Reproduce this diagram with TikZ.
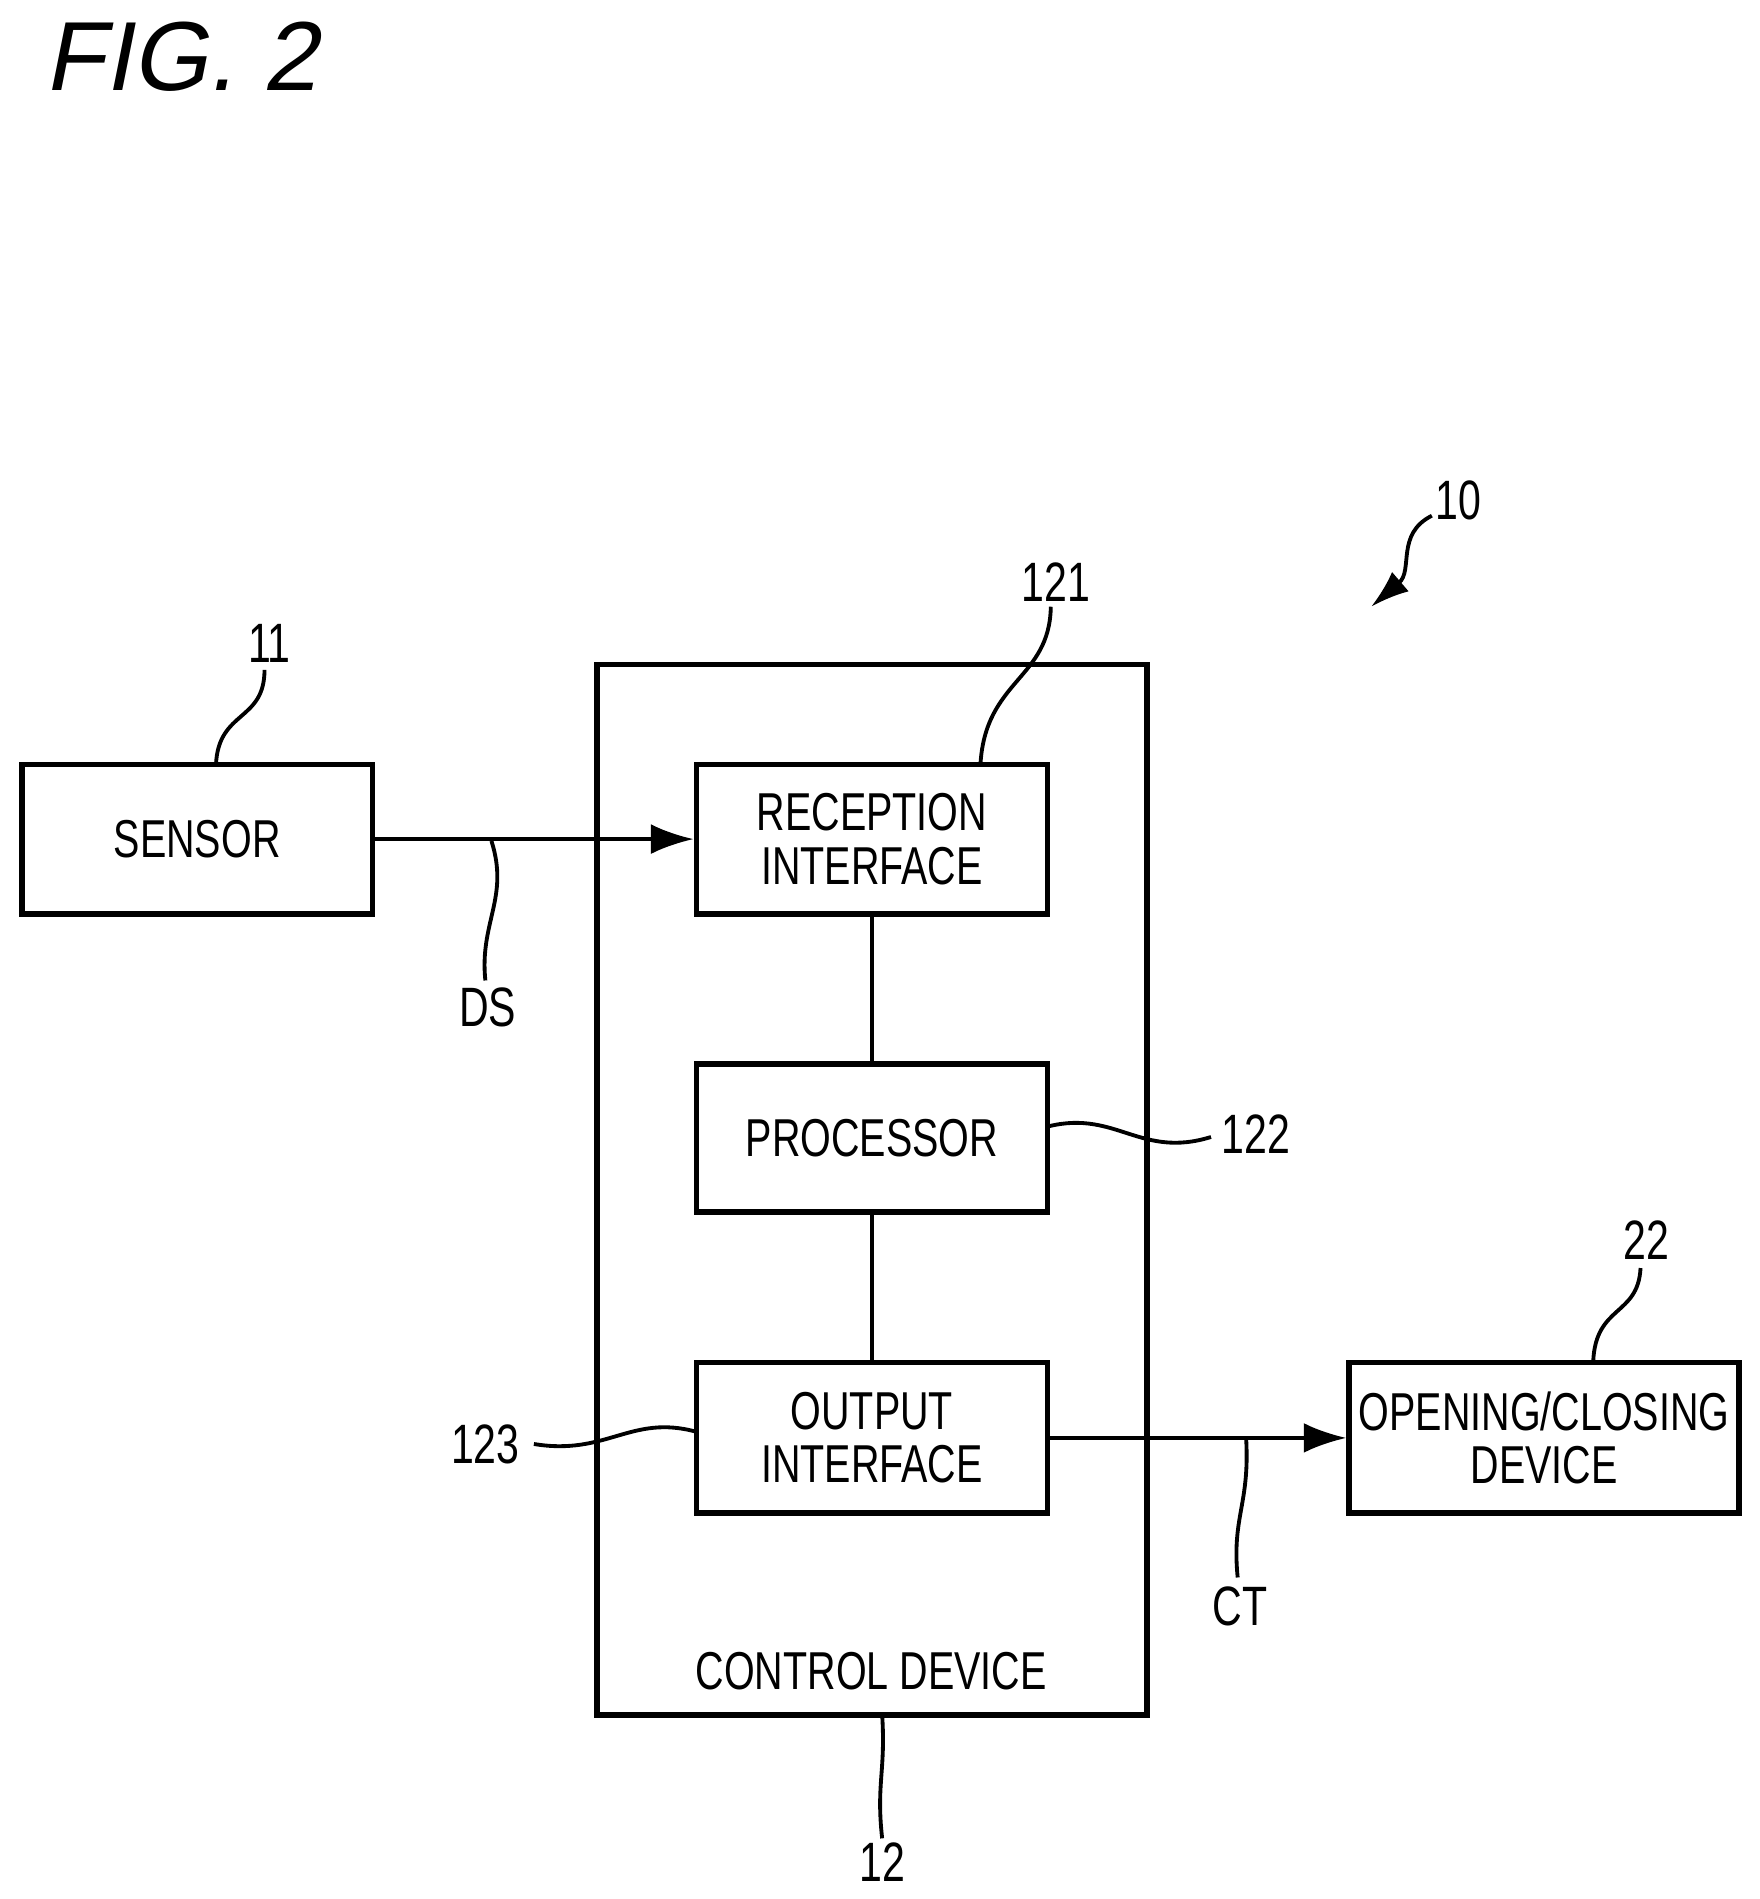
\documentclass[tikz,border=0pt]{standalone}
\usepackage{fontspec}
\setmainfont{Liberation Sans}[FakeStretch=0.74]
\newfontfamily\titlefont{Liberation Sans}[FakeSlant=0.2]
\usetikzlibrary{arrows.meta}
\begin{document}
\begin{tikzpicture}[x=0.01cm,y=-0.01cm,
  box/.style={draw,line width=1.3pt,inner sep=0pt,align=center,font=\fontsize{12.5}{12.5}\selectfont},
  lbl/.style={font=\fontsize{13}{14}\selectfont,inner sep=1pt},
  lead/.style={line width=0.9pt},
  conn/.style={line width=0.9pt},
  arr/.style={conn,-{Latex[length=10pt,width=7pt]}}]
\useasboundingbox (0,0) rectangle (1450,1565);
\node[anchor=west,font=\titlefont\fontsize{23}{24}\selectfont] (title) at (24,47) {FIG. 2};
\node[draw,line width=1.3pt,minimum width=4.53cm,minimum height=8.65cm,inner sep=0pt] (cd) at (718.5,980.5) {};
\coordinate (cdbot) at (727,1413);
\node[box,minimum width=2.89cm,minimum height=1.23cm] (sensor) at (162.5,691.5) {SENSOR};
\node[box,minimum width=2.89cm,minimum height=1.23cm] (rec) at (718.5,691.5) {RECEPTION\\INTERFACE};
\node[box,minimum width=2.89cm,minimum height=1.22cm] (proc) at (718.5,938) {PROCESSOR};
\node[box,minimum width=2.89cm,minimum height=1.24cm] (out) at (718.5,1185) {OUTPUT\\INTERFACE};
\node[box,minimum width=3.21cm,minimum height=1.24cm] (oc) at (1272.5,1185) {OPENING/CLOSING\\DEVICE};
\node[font=\fontsize{12.5}{13}\selectfont] (cdl) at (718,1377) {CONTROL DEVICE};
\draw[arr] (sensor.east) -- (rec.west);
\draw[arr] (out.east) -- (oc.west);
\draw[conn] (rec.south) -- (proc.north);
\draw[conn] (proc.south) -- (out.north);
% labels
\node[lbl] (l11) at (222,530) {11};
\node[lbl] (l121) at (870,480) {121};
\node[lbl] (l10) at (1202,412) {10};
\node[lbl] (lDS) at (402,830) {DS};
\node[lbl] (l122) at (1035,935) {122};
\node[lbl] (l22) at (1357,1022) {22};
\node[lbl] (l123) at (400,1190) {123};
\node[lbl] (lCT) at (1022,1324) {CT};
\node[lbl] (l12) at (727,1535) {12};
\coordinate (s11) at (178,630);
\draw[lead] (s11) .. controls (180,585) and (218,595) .. (218,552);
\coordinate (s121) at (808,630);
\draw[lead] (s121) .. controls (812,560) and (865,560) .. (866,500);
\coordinate (a10s) at (1180,425);
\coordinate (a10e) at (1130,500);
\draw[lead,-{Latex[length=9pt,width=6pt]}] (a10s) .. controls (1150,440) and (1165,470) .. (a10e);
\coordinate (sDS) at (405,693);
\draw[lead] (sDS) .. controls (420,740) and (395,760) .. (400,808);
\coordinate (s122) at (865,928);
\draw[lead] (s122) .. controls (920,915) and (940,955) .. (998,937);
\coordinate (s22) at (1313,1122);
\draw[lead] (s22) .. controls (1315,1075) and (1350,1085) .. (1352,1045);
\coordinate (s123) at (574,1180);
\draw[lead] (s123) .. controls (520,1165) and (500,1200) .. (440,1190);
\coordinate (sCT) at (1027,1186);
\draw[lead] (sCT) .. controls (1030,1240) and (1015,1250) .. (1020,1300);
\draw[lead] (cdbot) .. controls (730,1460) and (722,1470) .. (727,1515);
\end{tikzpicture}
\end{document}
